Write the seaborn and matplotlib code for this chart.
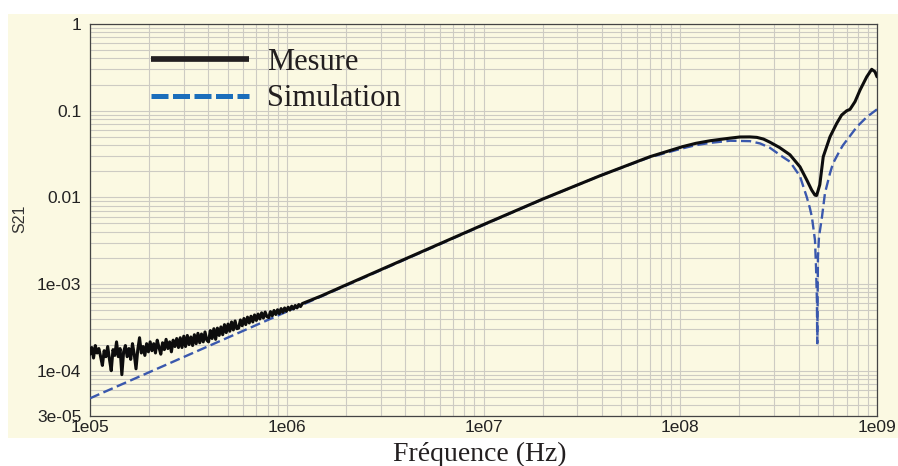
import numpy as np
import pandas as pd
import matplotlib
matplotlib.use("Agg")
import matplotlib.pyplot as plt
import seaborn as sns
from matplotlib.ticker import LogLocator, NullFormatter
from matplotlib.lines import Line2D
from matplotlib.patches import Rectangle

# ---- data -------------------------------------------------------------
# Low-frequency part of the measured sweep (noise floor), S21 in units of 1e-4,
# sampled on a logarithmic sweep between these two frequencies.
sweep_start_hz = 1e5
sweep_stop_hz = 1.2e6
mes_sweep_s21_e4 = [
    1.55, 1.85, 1.40, 1.95, 1.60, 1.80, 1.45, 1.15, 1.70, 1.45, 1.90, 1.35,
    1.00, 1.75, 1.50, 2.15, 1.45, 1.80, 0.90, 1.65, 1.95, 1.45, 1.80, 1.35,
    2.05, 1.55, 1.05, 1.75, 2.40, 1.60, 1.90, 1.50, 2.05, 1.65,
    2.15, 1.70, 2.05, 1.60, 2.25, 1.85, 1.55, 2.10, 1.75, 2.30, 1.80, 2.15,
    1.65, 2.25, 1.90, 2.35, 1.85,
    2.40, 1.85, 2.50, 1.90, 2.55, 2.00, 2.45, 1.95, 2.60, 2.05, 2.70, 2.10,
    2.65, 2.15, 2.80, 2.25,
    2.15, 2.90, 2.35, 3.05, 2.30, 3.10, 2.55, 3.20, 2.60, 3.40, 2.75, 3.45,
    2.85, 3.65, 2.95, 3.75, 3.05,
    3.10, 3.85, 3.30, 4.00, 3.40, 4.15, 3.55, 4.25, 3.65, 4.40, 3.80, 4.50,
    3.95, 4.65, 4.05, 4.75, 4.20,
    4.10, 4.80, 4.30, 4.95, 4.45, 5.05, 4.55, 5.20, 4.70, 5.30, 4.85, 5.40,
    5.00, 5.55, 5.15, 5.65, 5.30, 5.80, 5.50, 5.95,
]

# Measured S21 above the noise floor
mes_freq_hz = [
    1.5e6, 2e6, 3e6, 5e6, 1e7, 2e7, 3.9e7, 5.75e7, 7e7, 1.03e8, 1.2e8,
    1.42e8, 1.79e8, 2.01e8, 2.26e8, 2.45e8, 2.65e8, 2.86e8, 3.2e8, 3.61e8,
    4.06e8, 4.40e8, 4.66e8, 4.84e8, 4.93e8, 5.01e8, 5.12e8, 5.33e8, 5.77e8,
    6.24e8, 6.61e8, 7.01e8, 7.29e8, 7.73e8, 8.20e8, 8.87e8, 9.40e8, 9.77e8,
    1e9,
]
mes_s21 = [
    7.3e-4, 9.75e-4, 1.46e-3, 2.43e-3, 4.85e-3, 9.55e-3, 0.0177, 0.0248,
    0.0294, 0.0385, 0.0420, 0.0450, 0.0482, 0.0497, 0.0498, 0.0492, 0.0470,
    0.0432, 0.0375, 0.0310, 0.0225, 0.0158, 0.0121, 0.0106, 0.0105, 0.0118,
    0.0140, 0.0294, 0.0500, 0.0713, 0.0890, 0.0997, 0.1035, 0.127, 0.173,
    0.246, 0.300, 0.281, 0.246,
]

# Simulated S21
sim_freq_hz = [
    1e5, 1e6, 1e7, 2e7, 3.9e7, 5.75e7, 7e7, 1.03e8, 1.2e8, 1.42e8, 1.79e8,
    2.26e8, 2.55e8, 2.86e8, 3.33e8, 3.61e8, 3.96e8, 4.06e8, 4.40e8, 4.56e8,
    4.67e8, 4.84e8, 4.90e8, 4.95e8, 4.97e8, 5.01e8, 5.07e8, 5.25e8, 5.44e8,
    5.77e8, 5.97e8, 6.49e8, 6.72e8, 7.91e8, 8.89e8, 1e9,
]
sim_s21 = [
    4.8e-5, 4.8e-4, 4.8e-3, 9.5e-3, 0.0177, 0.0246, 0.0290, 0.0368, 0.0400,
    0.0425, 0.0450, 0.0445, 0.0418, 0.0372, 0.0291, 0.0258, 0.0190, 0.0175,
    0.0100, 0.0075, 0.0059, 0.0032, 0.00156, 0.00065, 0.000207, 0.00204,
    0.00347, 0.0059, 0.0112, 0.0190, 0.0245, 0.0351, 0.0400, 0.0653, 0.0848,
    0.1035,
]

x_ticks = [1e5, 1e6, 1e7, 1e8, 1e9]
x_tick_labels = ["1e05", "1e06", "1e07", "1e08", "1e09"]
y_ticks = [3e-5, 1e-4, 1e-3, 1e-2, 1e-1, 1]
y_tick_labels = ["3e-05", "1e-04", "1e-03", "0.01", "0.1", "1"]
series_names = ["Mesure", "Simulation"]

# ---- tables -----------------------------------------------------------
sweep_freq = np.geomspace(sweep_start_hz, sweep_stop_hz, len(mes_sweep_s21_e4))
mes = pd.DataFrame({
    "freq": np.concatenate([sweep_freq, mes_freq_hz]),
    "s21": np.concatenate([np.array(mes_sweep_s21_e4) * 1e-4, mes_s21]),
})
sim = pd.DataFrame({"freq": sim_freq_hz, "s21": sim_s21})

# ---- style ------------------------------------------------------------
sns.set_style("white")
plt.rcParams["font.family"] = ["Liberation Sans", "DejaVu Sans"]

panel = "#fbf9e2"
grid_c = "#cdcbc3"
ink = "#231f20"
sim_color = "#3a58ad"

W, H = 898, 466
fig = plt.figure(figsize=(W / 100, H / 100), dpi=100)
fig.patch.set_facecolor("white")
fig.add_artist(Rectangle((8 / W, 28 / H), (W - 8) / W, 424 / H,
                         transform=fig.transFigure, facecolor=panel,
                         edgecolor="none", zorder=-1))

ax = fig.add_axes([90 / W, 50 / H, 787 / W, 392 / H])
ax.set_facecolor(panel)

sns.lineplot(data=sim, x="freq", y="s21", ax=ax, color=sim_color, lw=1.7,
             zorder=3)
ax.lines[-1].set_linestyle((0, (4.3, 1.9)))
sns.lineplot(data=mes, x="freq", y="s21", ax=ax, color="#0d0d0d", lw=2.2,
             zorder=4)

ax.set_xscale("log")
ax.set_yscale("log")
ax.set_xlim(1e5, 1e9)
ax.set_ylim(3e-5, 1)

ax.set_xticks(x_ticks, x_tick_labels)
ax.set_yticks(y_ticks, y_tick_labels)
ax.xaxis.set_minor_locator(LogLocator(base=10, subs=np.arange(2, 10), numticks=100))
ax.yaxis.set_minor_locator(LogLocator(base=10, subs=np.arange(2, 10), numticks=100))
ax.xaxis.set_minor_formatter(NullFormatter())
ax.yaxis.set_minor_formatter(NullFormatter())

ax.grid(which="both", color=grid_c, lw=0.8)
ax.set_axisbelow(True)
ax.tick_params(which="minor", length=0)
ax.tick_params(axis="y", which="major", direction="inout", length=8.6,
               width=0.9, color="#333333", pad=2, labelsize=12.5,
               labelcolor="#222222")
ax.tick_params(axis="x", which="major", direction="in", length=4.3,
               width=0.9, color="#333333", pad=3, labelsize=12.5,
               labelcolor="#222222")
for s in ax.spines.values():
    s.set_visible(True)
    s.set_color("#444444")
    s.set_linewidth(0.9)

ax.set_xlabel("Fréquence (Hz)", fontfamily="Liberation Serif", fontsize=20,
              color=ink)
ax.xaxis.set_label_coords(0.4956, -0.066)
ax.set_ylabel("S21", fontsize=11.5, color="#333333")
ax.yaxis.set_label_coords(-0.080, 0.5026)

handles = [
    Line2D([], [], color=ink, lw=4.1, solid_capstyle="butt"),
    Line2D([], [], color="#1b6ebb", lw=3.6, linestyle=(0, (3.4, 0.9))),
]
ax.legend(handles, series_names, loc="upper left",
          bbox_to_anchor=(0.0775, 0.939), frameon=False,
          prop={"family": "Liberation Serif", "size": 22},
          labelcolor=ink, handlelength=3.2, handletextpad=0.6,
          labelspacing=0.24, borderaxespad=0, borderpad=0)

fig.savefig("out.png", dpi=100)
